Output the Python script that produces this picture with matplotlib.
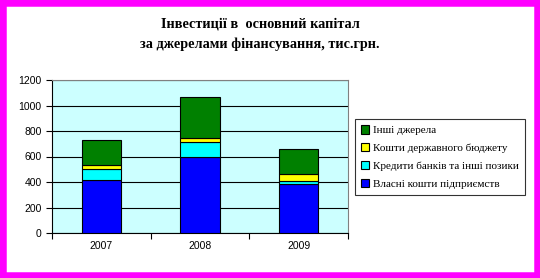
import matplotlib
matplotlib.use('Agg')
import matplotlib.pyplot as plt
import numpy as np
from matplotlib.patches import Rectangle

years = ['2007', '2008', '2009']
own_funds = [415, 598, 382]
bank_loans = [87, 113, 23]
state_budget = [29, 31, 55]
other_sources = [196, 322, 196]

labels = ['Власні кошти підприємств', 'Кредити банків та інші позики',
          'Кошти державного бюджету', 'Інші джерела']
colors = ['#0000FF', '#00FFFF', '#FFFF00', '#008000']

fig = plt.figure(figsize=(5.4, 2.78), dpi=100)
fig.patch.set_facecolor('white')
fig.patches.append(Rectangle((0.0, 0.0), 1, 1, transform=fig.transFigure,
                             fill=False, edgecolor='#FF00FF', linewidth=9))

ax = fig.add_axes([52/540, 1 - 233/278, 296/540, 153/278])
ax.set_facecolor('#CCFFFF')

x = np.arange(len(years))
bottom = np.zeros(len(years))
for vals, lab, col in zip([own_funds, bank_loans, state_budget, other_sources], labels, colors):
    ax.bar(x, vals, 0.4, bottom=bottom, color=col, edgecolor='black',
           linewidth=0.8, label=lab, zorder=3)
    bottom += np.array(vals)

ax.set_xlim(-0.5, 2.5)
ax.set_ylim(0, 1200)
ax.set_yticks(range(0, 1201, 200))
ax.yaxis.grid(True, color='black', linewidth=0.8, zorder=0)
ax.set_xticks([-0.5, 0.5, 1.5, 2.5])
ax.set_xticklabels([])
ax.set_xticks(x, minor=True)
ax.set_xticklabels(years, minor=True, fontsize=7.5, family='Liberation Sans')
ax.tick_params(axis='x', which='minor', length=0, pad=6)
ax.tick_params(axis='both', which='major', direction='out', length=4, width=0.8)
for lbl in ax.get_yticklabels():
    lbl.set_family('Liberation Sans')
    lbl.set_fontsize(7.5)
for s in ['top', 'right']:
    ax.spines[s].set_color('#808080')
    ax.spines[s].set_linewidth(0.8)
for s in ['left', 'bottom']:
    ax.spines[s].set_linewidth(0.8)

h, l = ax.get_legend_handles_labels()
leg = fig.legend(h[::-1], l[::-1], loc='center left', bbox_to_anchor=(355/540, 1 - 157/278),
                 prop={'family': 'Liberation Serif', 'size': 8}, frameon=True,
                 fancybox=False, edgecolor='black', handlelength=0.75, handleheight=0.75,
                 handletextpad=0.3, borderpad=0.55, labelspacing=0.7, borderaxespad=0)
leg.get_frame().set_linewidth(0.8)

fig.text(260/540, 1 - 24/278, 'Інвестиції в  основний капітал', ha='center', va='center',
         fontsize=10.3, fontweight='bold', family='Liberation Serif')
fig.text(260/540, 1 - 44/278, 'за джерелами фінансування, тис.грн.', ha='center', va='center',
         fontsize=10.3, fontweight='bold', family='Liberation Serif')

fig.savefig('out.png', dpi=100)
